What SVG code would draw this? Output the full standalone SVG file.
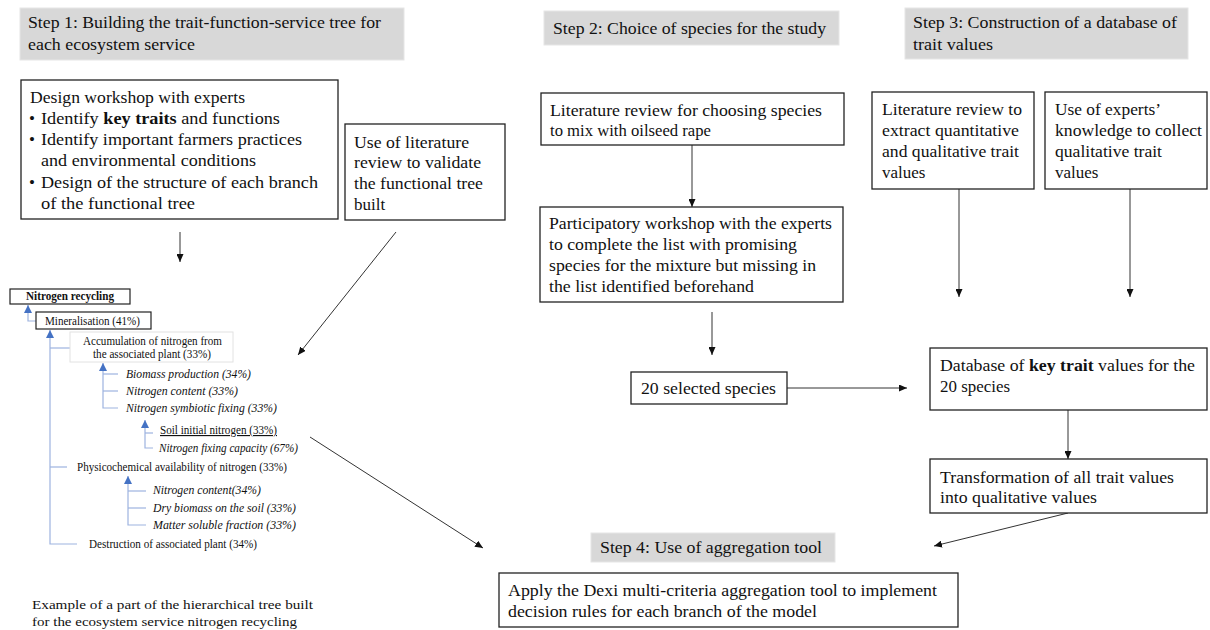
<svg xmlns="http://www.w3.org/2000/svg" width="1210" height="630" viewBox="0 0 1210 630" font-family="'Liberation Serif', 'Times New Roman', Times, serif">
<style>
text{font-family:'Liberation Serif','Times New Roman',Times,serif;fill:#111}
.m{font-size:17px}
.t{font-size:11.5px}
.ti{font-size:11.5px;font-style:italic}
.cap{font-size:13.5px}
.hdr{fill:#d8d8d8;stroke:#e6e6e6;stroke-width:1}
.box{fill:#fff;stroke:#222;stroke-width:1.3}
.tbox{fill:#fff;stroke:#222;stroke-width:1.2}
.lbox{fill:#fff;stroke:#e2e2e2;stroke-width:1}
.c{stroke:#333;stroke-width:1;fill:none}
.b{stroke:#9db3e0;stroke-width:1.2;fill:none}
</style>
<defs>
<marker id="ah" markerWidth="8" markerHeight="7" refX="8" refY="3.5" orient="auto" markerUnits="userSpaceOnUse"><path d="M0,0 L8,3.5 L0,7 z" fill="#111"/></marker>
<marker id="bh" markerWidth="8" markerHeight="8" refX="8" refY="4" orient="auto" markerUnits="userSpaceOnUse"><path d="M0,0 L8,4 L0,8 z" fill="#4472c4"/></marker>
</defs>

<g id="connectors">
<line class="c" x1="180" y1="232" x2="180" y2="262" marker-end="url(#ah)"/>
<line class="c" x1="396" y1="232" x2="298" y2="355" marker-end="url(#ah)"/>
<line class="c" x1="692" y1="145" x2="692" y2="207" marker-end="url(#ah)"/>
<line class="c" x1="712" y1="312" x2="712" y2="355" marker-end="url(#ah)"/>
<line class="c" x1="959" y1="189" x2="959" y2="297" marker-end="url(#ah)"/>
<line class="c" x1="1130" y1="189" x2="1130" y2="297" marker-end="url(#ah)"/>
<line class="c" x1="787" y1="388" x2="907" y2="388" stroke="#666" marker-end="url(#ah)"/>
<line class="c" x1="1068" y1="410" x2="1068" y2="459" marker-end="url(#ah)"/>
<line class="c" x1="1068" y1="513" x2="934" y2="546" marker-end="url(#ah)"/>
<line class="c" x1="310" y1="437" x2="483" y2="548" marker-end="url(#ah)"/>
</g>

<g id="tree-connectors">
<polyline class="b" points="36,321 28,321 28,305" marker-end="url(#bh)"/>
<polyline class="b" points="77,544 50,544 50,330" marker-end="url(#bh)"/>
<line class="b" x1="50" y1="348" x2="70" y2="348"/>
<line class="b" x1="50" y1="467" x2="67" y2="467"/>
<polyline class="b" points="118,408 103,408 103,363" marker-end="url(#bh)"/>
<line class="b" x1="103" y1="374" x2="118" y2="374"/>
<line class="b" x1="103" y1="391" x2="118" y2="391"/>
<polyline class="b" points="153,448 145,448 145,420" marker-end="url(#bh)"/>
<line class="b" x1="145" y1="433" x2="153" y2="433"/>
<polyline class="b" points="146,525 128,525 128,476" marker-end="url(#bh)"/>
<line class="b" x1="128" y1="491" x2="146" y2="491"/>
<line class="b" x1="128" y1="508" x2="146" y2="508"/>
</g>

<g id="step1-header">
<rect class="hdr" x="20" y="8" width="384" height="52"/>
<text class="m" x="28" y="28" textLength="353" lengthAdjust="spacingAndGlyphs">Step 1: Building the trait-function-service tree for</text>
<text class="m" x="28" y="50" textLength="167" lengthAdjust="spacingAndGlyphs">each ecosystem service</text>
</g>

<g id="design-workshop">
<rect class="box" x="21" y="80" width="317" height="139"/>
<text class="m" x="30" y="103" textLength="215" lengthAdjust="spacingAndGlyphs">Design workshop with experts</text>
<text class="m" x="29" y="124">•</text>
<text class="m" x="41" y="124" textLength="239" lengthAdjust="spacingAndGlyphs">Identify <tspan font-weight="bold">key traits</tspan> and functions</text>
<text class="m" x="29" y="145">•</text>
<text class="m" x="41" y="145" textLength="261" lengthAdjust="spacingAndGlyphs">Identify important farmers practices</text>
<text class="m" x="41" y="166" textLength="215" lengthAdjust="spacingAndGlyphs">and environmental conditions</text>
<text class="m" x="29" y="188">•</text>
<text class="m" x="41" y="188" textLength="277" lengthAdjust="spacingAndGlyphs">Design of the structure of each branch</text>
<text class="m" x="41" y="209" textLength="154" lengthAdjust="spacingAndGlyphs">of the functional tree</text>
</g>

<g id="literature-validate">
<rect class="box" x="345" y="124" width="160" height="96"/>
<text class="m" x="354" y="148" textLength="115" lengthAdjust="spacingAndGlyphs">Use of literature</text>
<text class="m" x="354" y="168" textLength="127" lengthAdjust="spacingAndGlyphs">review to validate</text>
<text class="m" x="354" y="189" textLength="129" lengthAdjust="spacingAndGlyphs">the functional tree</text>
<text class="m" x="354" y="210">built</text>
</g>

<g id="tree">
<g id="n-nitrogen-recycling">
<rect class="tbox" x="10" y="289" width="120" height="15"/>
<text class="t" x="26" y="300" font-weight="bold" textLength="88" lengthAdjust="spacingAndGlyphs">Nitrogen recycling</text>
</g>
<g id="n-mineralisation">
<rect class="tbox" x="36" y="312" width="115" height="17"/>
<text class="t" x="45" y="325" textLength="95" lengthAdjust="spacingAndGlyphs">Mineralisation (41%)</text>
</g>
<g id="n-accumulation">
<rect class="lbox" x="70" y="332" width="163" height="30"/>
<text class="t" x="83" y="345" textLength="139" lengthAdjust="spacingAndGlyphs">Accumulation of nitrogen from</text>
<text class="t" x="93" y="358" textLength="118" lengthAdjust="spacingAndGlyphs">the associated plant (33%)</text>
</g>
<text class="ti" x="126" y="378" textLength="125" lengthAdjust="spacingAndGlyphs">Biomass production (34%)</text>
<text class="ti" x="126" y="395" textLength="112" lengthAdjust="spacingAndGlyphs">Nitrogen content (33%)</text>
<text class="ti" x="126" y="412" textLength="151" lengthAdjust="spacingAndGlyphs">Nitrogen symbiotic fixing (33%)</text>
<text class="t" x="160" y="434" text-decoration="underline" textLength="117" lengthAdjust="spacingAndGlyphs">Soil initial nitrogen (33%)</text>
<text class="ti" x="159" y="452" textLength="139" lengthAdjust="spacingAndGlyphs">Nitrogen fixing capacity (67%)</text>
<text class="t" x="77" y="471" textLength="210" lengthAdjust="spacingAndGlyphs">Physicochemical availability of nitrogen (33%)</text>
<text class="ti" x="153" y="494" textLength="108" lengthAdjust="spacingAndGlyphs">Nitrogen content(34%)</text>
<text class="ti" x="153" y="512" textLength="143" lengthAdjust="spacingAndGlyphs">Dry biomass on the soil (33%)</text>
<text class="ti" x="153" y="529" textLength="143" lengthAdjust="spacingAndGlyphs">Matter soluble  fraction (33%)</text>
<text class="t" x="89" y="548" textLength="168" lengthAdjust="spacingAndGlyphs">Destruction of associated plant (34%)</text>
</g>

<g id="caption">
<text class="cap" x="32" y="609" textLength="281" lengthAdjust="spacingAndGlyphs">Example of a part of the hierarchical tree built</text>
<text class="cap" x="32" y="626" textLength="265" lengthAdjust="spacingAndGlyphs">for the ecosystem service nitrogen recycling</text>
</g>

<g id="step2-header">
<rect class="hdr" x="544" y="11" width="295" height="34"/>
<text class="m" x="553" y="34" textLength="273" lengthAdjust="spacingAndGlyphs">Step 2: Choice of species for the study</text>
</g>

<g id="literature-species">
<rect class="box" x="541" y="93" width="303" height="52"/>
<text class="m" x="550" y="116" textLength="272" lengthAdjust="spacingAndGlyphs">Literature review for choosing species</text>
<text class="m" x="550" y="136" textLength="161" lengthAdjust="spacingAndGlyphs">to mix with oilseed rape</text>
</g>

<g id="participatory-workshop">
<rect class="box" x="540" y="207" width="303" height="95"/>
<text class="m" x="549" y="229" textLength="283" lengthAdjust="spacingAndGlyphs">Participatory workshop with the experts</text>
<text class="m" x="549" y="250" textLength="248" lengthAdjust="spacingAndGlyphs">to complete the list with promising</text>
<text class="m" x="549" y="271" textLength="267" lengthAdjust="spacingAndGlyphs">species for the mixture but missing in</text>
<text class="m" x="549" y="292" textLength="205" lengthAdjust="spacingAndGlyphs">the list identified beforehand</text>
</g>

<g id="selected-species">
<rect class="box" x="631" y="372" width="156" height="32"/>
<text class="m" x="641" y="394" textLength="135" lengthAdjust="spacingAndGlyphs">20 selected species</text>
</g>

<g id="step3-header">
<rect class="hdr" x="905" y="8" width="283" height="51"/>
<text class="m" x="913" y="28" textLength="264" lengthAdjust="spacingAndGlyphs">Step 3: Construction of a database of</text>
<text class="m" x="913" y="50" textLength="80" lengthAdjust="spacingAndGlyphs">trait values</text>
</g>

<g id="literature-traits">
<rect class="box" x="872" y="92" width="162" height="97"/>
<text class="m" x="882" y="115" textLength="140" lengthAdjust="spacingAndGlyphs">Literature review to</text>
<text class="m" x="882" y="136" textLength="137" lengthAdjust="spacingAndGlyphs">extract quantitative</text>
<text class="m" x="882" y="157" textLength="137" lengthAdjust="spacingAndGlyphs">and qualitative trait</text>
<text class="m" x="882" y="178">values</text>
</g>

<g id="experts-knowledge">
<rect class="box" x="1045" y="92" width="162" height="97"/>
<text class="m" x="1055" y="115" textLength="106" lengthAdjust="spacingAndGlyphs">Use of experts’</text>
<text class="m" x="1055" y="136" textLength="147" lengthAdjust="spacingAndGlyphs">knowledge to collect</text>
<text class="m" x="1055" y="157" textLength="107" lengthAdjust="spacingAndGlyphs">qualitative trait</text>
<text class="m" x="1055" y="178">values</text>
</g>

<g id="database">
<rect class="box" x="930" y="348" width="277" height="62"/>
<text class="m" x="940" y="371" textLength="255" lengthAdjust="spacingAndGlyphs">Database of <tspan font-weight="bold">key trait</tspan> values for the</text>
<text class="m" x="940" y="392" textLength="70" lengthAdjust="spacingAndGlyphs">20 species</text>
</g>

<g id="transformation">
<rect class="box" x="930" y="459" width="277" height="54"/>
<text class="m" x="940" y="483" textLength="234" lengthAdjust="spacingAndGlyphs">Transformation of all trait values</text>
<text class="m" x="940" y="503" textLength="157" lengthAdjust="spacingAndGlyphs">into qualitative values</text>
</g>

<g id="step4-header">
<rect class="hdr" x="591" y="533" width="244" height="29"/>
<text class="m" x="600" y="553" textLength="222" lengthAdjust="spacingAndGlyphs">Step 4: Use of aggregation tool</text>
</g>

<g id="dexi">
<rect class="box" x="499" y="573" width="459" height="54"/>
<text class="m" x="508" y="596" textLength="429" lengthAdjust="spacingAndGlyphs">Apply the Dexi multi-criteria aggregation tool to implement</text>
<text class="m" x="508" y="617" textLength="309" lengthAdjust="spacingAndGlyphs">decision rules for each branch of the model</text>
</g>
</svg>
